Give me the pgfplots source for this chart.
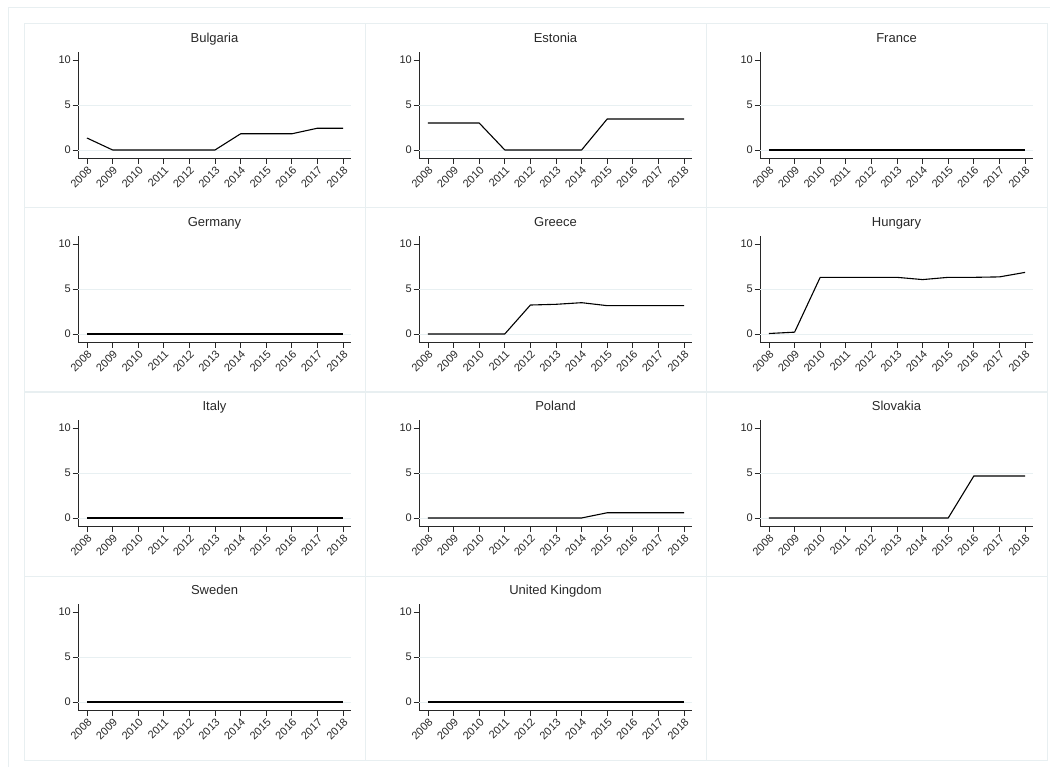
\documentclass[border=0pt]{standalone}
\usepackage{fontspec}
\setmainfont{Liberation Sans}
\usepackage{pgfplots}
\pgfplotsset{compat=1.18}

\definecolor{framec}{RGB}{232,239,241}
\definecolor{gridc}{RGB}{232,240,242}
\definecolor{axisc}{RGB}{40,40,40}

\pgfplotsset{
  panel/.style={
    scale only axis, width=273pt, height=106.5pt, anchor=south west,
    xmin=2007.65, xmax=2018.31, ymin=-0.95, ymax=10.9,
    axis lines=left, axis line style={-, draw=axisc, line width=0.8pt},
    xtick={2008,2009,...,2018}, ytick={0,5,10},
    extra y ticks={0,5}, extra y tick labels={},
    extra y tick style={ymajorgrids=true, major tick length=0pt},
    major grid style={draw=gridc, line width=0.9pt},
    tick align=outside, major tick length=5.5pt,
    tick style={draw=axisc, line width=0.8pt},
    /pgf/number format/assume math mode=true,
    /pgf/number format/1000 sep={},
    xticklabel style={rotate=45, anchor=north east, inner sep=1pt,
      font=\fontsize{11}{12}\selectfont, text=axisc},
    yticklabel style={font=\fontsize{11}{12}\selectfont, text=axisc, inner sep=1.5pt},
    title style={at={(0.5,1)}, anchor=base, yshift=3.5pt,
      font=\fontsize{13}{14}\selectfont, text=axisc},
    clip=false,
  },
  dataline/.style={black, line width=1.1pt, mark=none, line join=round},
}

\begin{document}
\begin{tikzpicture}
\useasboundingbox (0pt,0pt) rectangle (1050pt,-767pt);

% outer graph region and the cell frames
\draw[framec, line width=1pt] (8pt,-8pt) rectangle (1080pt,-800pt);
\foreach \c in {0,1,2}{
  \foreach \r in {0,1,2,3}{
    \draw[framec, line width=1pt]
      ({(24+341*\c)*1pt},{-(24+184*\r)*1pt}) rectangle ++(341pt,-184pt);
  }
}

% row 1
\begin{axis}[panel, at={(78pt,-158.5pt)}, title={Bulgaria}]
\addplot[dataline] coordinates {(2008,1.33) (2009,0) (2010,0) (2011,0) (2012,0) (2013,0) (2014,1.8) (2015,1.8) (2016,1.8) (2017,2.42) (2018,2.42)};
\end{axis}
\begin{axis}[panel, at={(419pt,-158.5pt)}, title={Estonia}]
\addplot[dataline] coordinates {(2008,3.0) (2009,3.0) (2010,3.0) (2011,0) (2012,0) (2013,0) (2014,0) (2015,3.45) (2016,3.45) (2017,3.45) (2018,3.45)};
\end{axis}
\begin{axis}[panel, at={(760pt,-158.5pt)}, title={France}]
\addplot[dataline] coordinates {(2008,0) (2009,0) (2010,0) (2011,0) (2012,0) (2013,0) (2014,0) (2015,0) (2016,0) (2017,0) (2018,0)};
\end{axis}

% row 2
\begin{axis}[panel, at={(78pt,-342.5pt)}, title={Germany}]
\addplot[dataline] coordinates {(2008,0) (2009,0) (2010,0) (2011,0) (2012,0) (2013,0) (2014,0) (2015,0) (2016,0) (2017,0) (2018,0)};
\end{axis}
\begin{axis}[panel, at={(419pt,-342.5pt)}, title={Greece}]
\addplot[dataline] coordinates {(2008,0) (2009,0) (2010,0) (2011,0) (2012,3.22) (2013,3.3) (2014,3.48) (2015,3.15) (2016,3.15) (2017,3.15) (2018,3.15)};
\end{axis}
\begin{axis}[panel, at={(760pt,-342.5pt)}, title={Hungary}]
\addplot[dataline] coordinates {(2008,0.05) (2009,0.2) (2010,6.3) (2011,6.3) (2012,6.3) (2013,6.3) (2014,6.05) (2015,6.3) (2016,6.3) (2017,6.35) (2018,6.85)};
\end{axis}

% row 3
\begin{axis}[panel, at={(78pt,-526.5pt)}, title={Italy}]
\addplot[dataline] coordinates {(2008,0) (2009,0) (2010,0) (2011,0) (2012,0) (2013,0) (2014,0) (2015,0) (2016,0) (2017,0) (2018,0)};
\end{axis}
\begin{axis}[panel, at={(419pt,-526.5pt)}, title={Poland}]
\addplot[dataline] coordinates {(2008,0) (2009,0) (2010,0) (2011,0) (2012,0) (2013,0) (2014,0) (2015,0.58) (2016,0.58) (2017,0.58) (2018,0.58)};
\end{axis}
\begin{axis}[panel, at={(760pt,-526.5pt)}, title={Slovakia}]
\addplot[dataline] coordinates {(2008,0) (2009,0) (2010,0) (2011,0) (2012,0) (2013,0) (2014,0) (2015,0) (2016,4.67) (2017,4.67) (2018,4.67)};
\end{axis}

% row 4
\begin{axis}[panel, at={(78pt,-710.5pt)}, title={Sweden}]
\addplot[dataline] coordinates {(2008,0) (2009,0) (2010,0) (2011,0) (2012,0) (2013,0) (2014,0) (2015,0) (2016,0) (2017,0) (2018,0)};
\end{axis}
\begin{axis}[panel, at={(419pt,-710.5pt)}, title={United Kingdom}]
\addplot[dataline] coordinates {(2008,0) (2009,0) (2010,0) (2011,0) (2012,0) (2013,0) (2014,0) (2015,0) (2016,0) (2017,0) (2018,0)};
\end{axis}
\end{tikzpicture}
\end{document}
